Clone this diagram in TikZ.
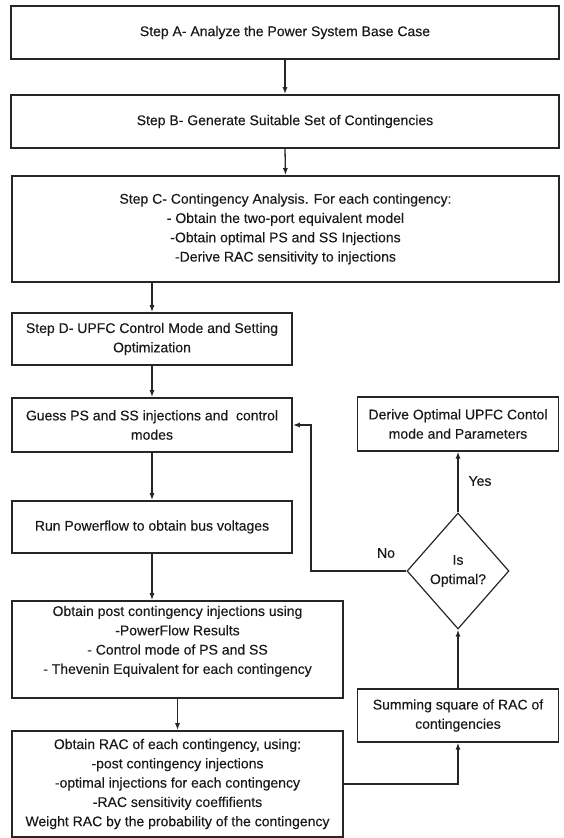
\documentclass[tikz,border=0pt]{standalone}
\usepackage{fontspec}
\setmainfont{Liberation Sans}[BoldFont={Liberation Sans}, BoldFeatures={FakeBold=0.25}]
\usetikzlibrary{shapes.geometric,arrows.meta}
\begin{document}
\begin{tikzpicture}[x=1pt,y=-1pt,
  box/.style={draw=black!85, line width=1.6pt, rectangle, align=center, inner sep=0pt,
    font=\fontsize{14}{19.3}\selectfont\bfseries, text=black!90},
  rbox/.style={box, line width=1.2pt},
  dec/.style={diamond, draw=black!85, line width=1.2pt, align=center, inner sep=0pt,
    minimum width=102pt, minimum height=116pt, font=\fontsize{14}{19.3}\selectfont\bfseries, text=black!90},
  conn/.style={draw=black!85, line width=1.3pt, -{Latex[length=7pt,width=5pt]}},
  lbl/.style={font=\fontsize{14}{17}\selectfont\bfseries, text=black!90, inner sep=0pt}]
\useasboundingbox (0,0) rectangle (563,838);
\node[box, minimum width=548pt, minimum height=53pt] (A) at (285,32.5) {Step A- Analyze the Power System Base Case};
\node[box, minimum width=548pt, minimum height=53pt] (B) at (285,121.5) {Step B- Generate Suitable Set of Contingencies};
\node[box, minimum width=547pt, minimum height=106pt] (C) at (285.5,229) {Step C- Contingency Analysis. For each contingency:\\
- Obtain the two-port equivalent model\\
-Obtain optimal PS and SS Injections\\
-Derive RAC sensitivity to injections};
\node[box, minimum width=280pt, minimum height=52pt] (D) at (152,339) {Step D- UPFC Control Mode and Setting\\Optimization};
\node[box, minimum width=280pt, minimum height=54pt] (G) at (152,425) {Guess PS and SS injections and~ control\\modes};
\node[box, minimum width=280pt, minimum height=52pt] (R) at (152,527) {Run Powerflow to obtain bus voltages};
\node[box, minimum width=331pt, minimum height=97pt] (P) at (177.5,649.5) {Obtain post contingency injections using\\
-PowerFlow Results\\
- Control mode of PS and SS\\
- Thevenin Equivalent for each contingency\\
\mbox{}};
\node[box, minimum width=331pt, minimum height=106pt] (Q) at (177.5,784) {Obtain RAC of each contingency, using:\\
-post contingency injections\\
-optimal injections for each contingency\\
-RAC sensitivity coeffifients\\
Weight RAC by the probability of the contingency};
\node[rbox, minimum width=201pt, minimum height=54pt] (V) at (458,424) {Derive Optimal UPFC Contol\\mode and Parameters};
\node[rbox, minimum width=201pt, minimum height=53pt] (S) at (458,715.5) {Summing square of RAC of\\contingencies};
\node[dec] (O) at (458,571) {Is\\Optimal?};
\coordinate (nb) at (311,571);
\coordinate (rq) at (458,784);
\draw[conn] (A.south) -- (B.north);
\draw[conn] (B.south) -- (C.north);
\draw[conn] (C.south -| D.north) -- (D.north);
\draw[conn] (D.south) -- (G.north);
\draw[conn] (G.south) -- (R.north);
\draw[conn] (R.south) -- (R.south |- P.north);
\draw[conn] (P.south) -- (Q.north);
\draw[conn] (Q.east) -- (rq) -- (S.south);
\draw[conn] (S.north) -- (O.south);
\draw[conn] (O.north) -- (V.south);
\draw[conn] (O.west) -- (nb) |- (G.east);
\node[lbl] (yes) at (480,481) {Yes};
\node[lbl] (no) at (386,553) {No};
\end{tikzpicture}
\end{document}
